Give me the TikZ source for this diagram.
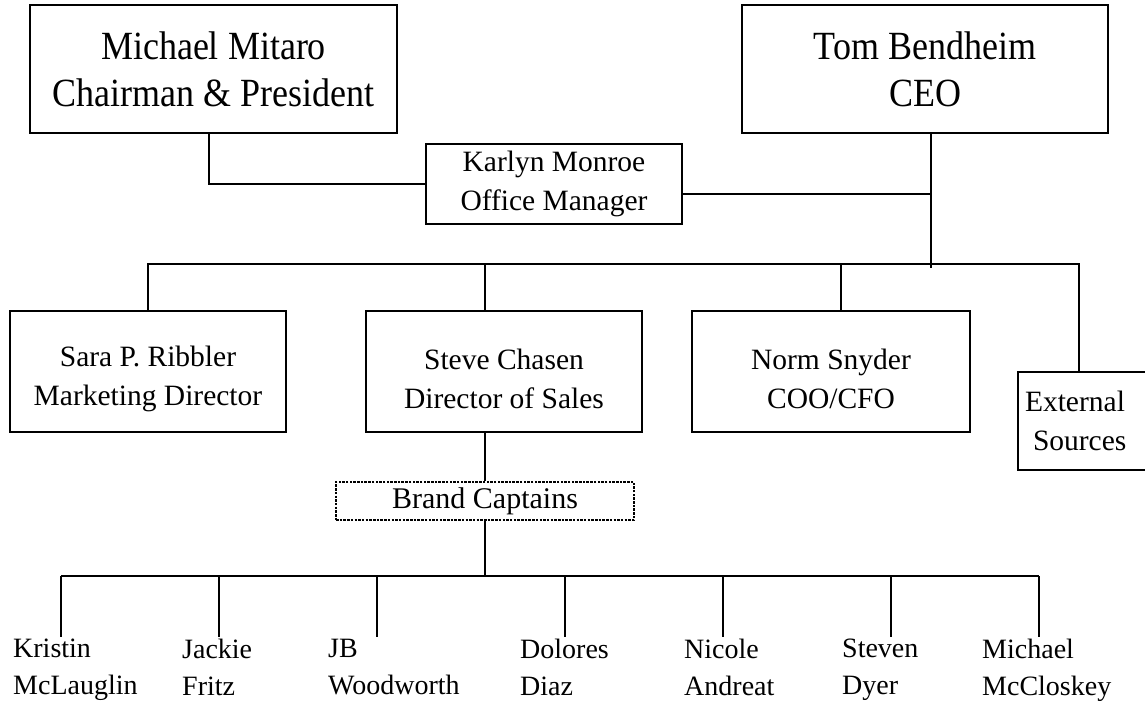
\documentclass[tikz,border=0pt]{standalone}
\usepackage{fontspec}
\setmainfont{Liberation Serif}
\newfontfamily\topfont[FakeStretch=0.9]{Liberation Serif}
\usetikzlibrary{calc}
\tikzset{
  conn/.style={line width=1.5pt},
  box/.style={draw, line width=1.5pt, rectangle, align=center, inner sep=2pt},
  bigtxt/.style={font=\topfont\fontsize{40}{47}\selectfont},
  midtxt/.style={font=\fontsize{29.5}{39}\selectfont},
  nametxt/.style={font=\fontsize{28}{37}\selectfont, align=left, anchor=north west, inner sep=2pt},
  dashbox/.style={draw, line width=2pt, dash pattern=on 2.5pt off 1.2pt, rectangle, align=center, inner sep=1pt, font=\fontsize{30}{34}\selectfont}
}
\newcommand{\lowstrut}{\rule{0pt}{36pt}}
\begin{document}
\begin{tikzpicture}[x=1pt,y=-1pt]
\clip (0,0) rectangle (1145,706);
\fill[white] (0,0) rectangle (1145,706);

% top row
\node[box, bigtxt, minimum width=367pt, minimum height=128pt] (mitaro) at (213.5,69) {Michael Mitaro\\Chairman \& President};
\node[box, bigtxt, minimum width=366pt, minimum height=128pt] (tom) at (925,69) {Tom Bendheim\\CEO};
\node[box, midtxt, minimum width=256pt, minimum height=80pt] (karlyn) at (554,184) {Karlyn Monroe\\Office Manager};

% second row
\node[box, midtxt, minimum width=276pt, minimum height=121pt] (sara) at (148,371.5) {\lowstrut Sara P.\ Ribbler\\Marketing Director};
\node[box, midtxt, minimum width=276pt, minimum height=121pt] (steve) at (504,371.5) {\lowstrut Steve Chasen\\Director of Sales};
\node[box, midtxt, minimum width=278pt, minimum height=121pt] (norm) at (831,371.5) {\lowstrut Norm Snyder\\COO/CFO};
\node[box, midtxt, minimum width=142pt, minimum height=98pt, text width=128pt, align=left] (ext) at (1089,421) {External\\\hspace*{8pt}Sources};

% brand captains
\node[dashbox, minimum width=298pt, minimum height=38pt] (brand) at (485,501) {Brand Captains};

% names
\node[nametxt] (n1) at (11,637) {Kristin\\McLauglin};
\node[nametxt] (n2) at (180,637) {Jackie\\Fritz};
\node[nametxt] (n3) at (326,637) {JB\\Woodworth};
\node[nametxt] (n4) at (518,637) {Dolores\\Diaz};
\node[nametxt] (n5) at (682,637) {Nicole\\Andreat};
\node[nametxt] (n6) at (840,637) {Steven\\Dyer};
\node[nametxt] (n7) at (980,637) {Michael\\McCloskey};

% coordinates
\coordinate (tomhub) at (931,268);
\coordinate (barL) at (148,264);
\coordinate (barR) at (1079,264);
\coordinate (subbar) at (61,576);
\coordinate (t1) at (61,634);
\coordinate (t2) at (219,634);
\coordinate (t3) at (377,634);
\coordinate (t4) at (565,634);
\coordinate (t5) at (723,634);
\coordinate (t6) at (891,634);
\coordinate (t7) at (1039,634);

% connectors top
\draw[conn] ([xshift=-4.5pt]mitaro.south) |- (karlyn.west);
\draw[conn] (tom.south -| tomhub) -- (tomhub);
\draw[conn] ([yshift=-10pt]karlyn.east) -- ([yshift=-10pt]karlyn.east -| tomhub);

% main bar
\draw[conn] (sara.north) -- (sara.north |- barL) -- (barR) -- (barR |- ext.north);
\draw[conn] ([xshift=-19pt]steve.north) -- ([xshift=-19pt]steve.north |- barL);
\draw[conn] ([xshift=10pt]norm.north) -- ([xshift=10pt]norm.north |- barL);

% steve to brand
\draw[conn] (steve.south -| brand.north) -- (brand.north);
\draw[conn] (brand.south) -- (brand.south |- subbar);

% sub bar
\draw[conn] (t1 |- subbar) -- (t7 |- subbar);
\draw[conn] (t1 |- subbar) -- (t1 |- n1.north);
\draw[conn] (t2 |- subbar) -- (t2 |- n2.north);
\draw[conn] (t3 |- subbar) -- (t3 |- n3.north);
\draw[conn] (t4 |- subbar) -- (t4 |- n4.north);
\draw[conn] (t5 |- subbar) -- (t5 |- n5.north);
\draw[conn] (t6 |- subbar) -- (t6 |- n6.north);
\draw[conn] (t7 |- subbar) -- (t7 |- n7.north);
\end{tikzpicture}
\end{document}
